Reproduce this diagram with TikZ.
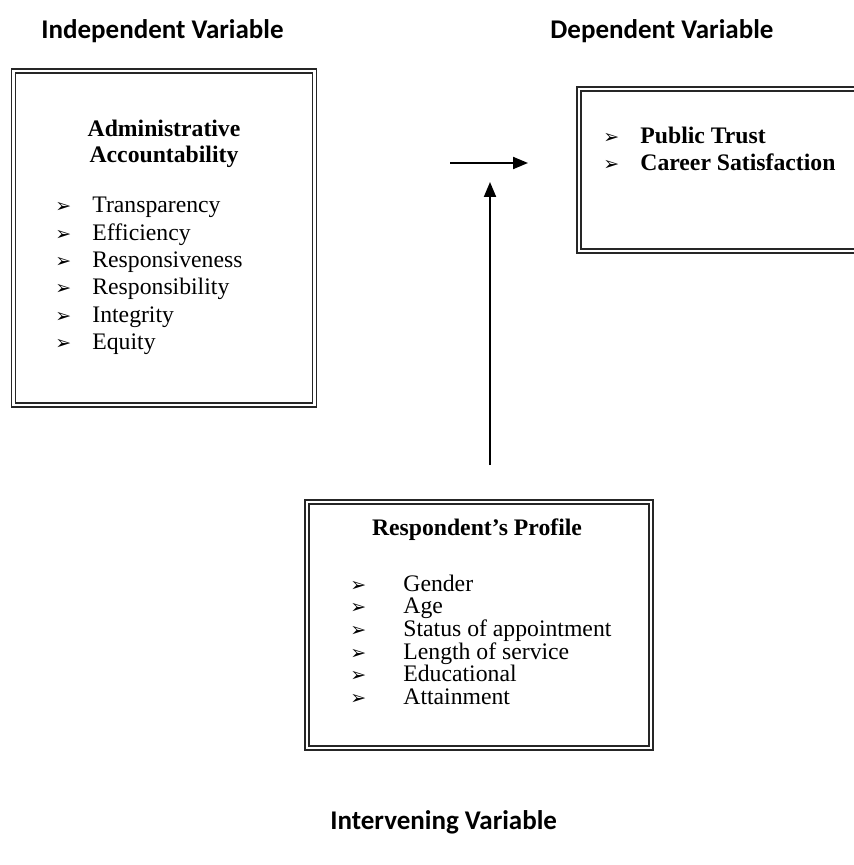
\documentclass[tikz,border=0pt]{standalone}
\usepackage{fontspec}
\setmainfont{Liberation Serif}
\newfontfamily\headfont{Carlito}
\newfontfamily\dingfont{DejaVu Sans}
\usetikzlibrary{arrows.meta}
\newcommand{\arrowbullet}{{\dingfont\fontsize{9.5}{10}\selectfont ➢}}

\begin{document}
\begin{tikzpicture}[x=0.5pt, y=-0.5pt,
  framebox/.style={draw=black!85, line width=0.75pt, double=white, double distance=1.1pt, inner sep=0pt},
  heading/.style={font=\headfont\bfseries\fontsize{13.5}{16}\selectfont, inner sep=0pt, anchor=base west},
  title/.style={font=\bfseries\fontsize{11.85}{14}\selectfont, inner sep=0pt, anchor=base},
  entry/.style={font=\fontsize{11.85}{14}\selectfont, inner sep=0pt, anchor=base west},
  flow/.style={line width=1pt, -{Triangle[length=7.5pt, width=6pt]}}]

  \useasboundingbox (0,0) rectangle (853,865);

  % headings
  \node[heading] (indephead) at (41,39) {Independent Variable};
  \node[heading] (dephead) at (550,39) {Dependent Variable};
  \node[heading] (inthead) at (330,829) {Intervening Variable};

  % independent variable
  \node[framebox, minimum width=150.5pt, minimum height=167pt] (indepbox) at (164,238) {};
  \node[title] (admtitle1) at (164,137) {Administrative};
  \node[title] (admtitle2) at (164,163) {Accountability};
  \foreach \txt [count=\i] in {Transparency, Efficiency, Responsiveness, Responsibility, Integrity, Equity}
    \node[entry] (adm\i) at ({55}, {185.7+27.3*\i}) {\makebox[18.5pt][l]{\arrowbullet}\txt};

  % dependent variable
  \node[framebox, minimum width=145.5pt, minimum height=81pt] (depbox) at (724.5,170) {};
  \node[entry, font=\bfseries\fontsize{11.85}{14}\selectfont] (dep1) at (603,144) {\makebox[18.5pt][l]{\arrowbullet}Public Trust};
  \node[entry, font=\bfseries\fontsize{11.85}{14}\selectfont] (dep2) at (603,171) {\makebox[18.5pt][l]{\arrowbullet}Career Satisfaction};

  % intervening variable
  \node[framebox, minimum width=172pt, minimum height=123pt] (intbox) at (479,625) {};
  \node[title] (proftitle) at (477,535) {Respondent’s Profile};
  \foreach \txt [count=\i] in {Gender, Age, Status of appointment, Length of service, Educational, Attainment}
    \node[entry] (prof\i) at ({350}, {568.3+22.7*\i}) {\makebox[26.5pt][l]{\arrowbullet}\txt};

  % arrows
  \coordinate (hstart) at (450,163);
  \coordinate (hend) at (528,163);
  \coordinate (vstart) at (490,465);
  \coordinate (vend) at (490,182);
  \draw[flow] (hstart) -- (hend);
  \draw[flow] (vstart) -- (vend);
\end{tikzpicture}
\end{document}
